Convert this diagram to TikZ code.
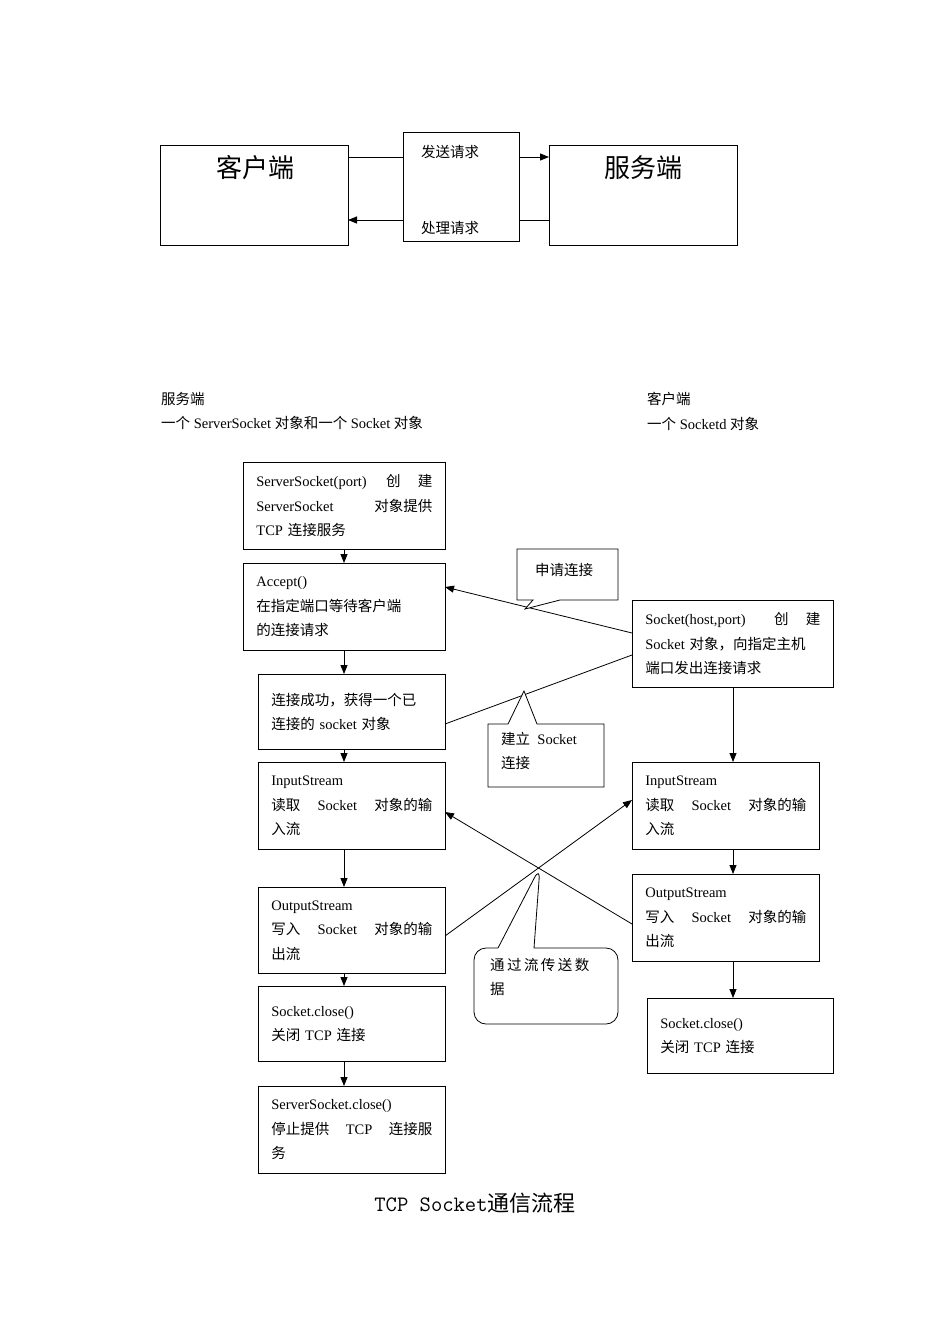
\documentclass[tikz,border=0pt]{standalone}
\usepackage{fontspec}
\setmainfont{Liberation Serif}
\newfontfamily\cjk{Noto Sans CJK SC}
\newcommand\zh[1]{{\cjk #1}}
\usetikzlibrary{arrows.meta}
\begin{document}
\begin{tikzpicture}[x=1pt,y=-1pt,
  box/.style={draw,thick,anchor=north west,align=left,inner sep=0pt,font=\fontsize{14.5}{24.5}\selectfont},
  lbl/.style={anchor=north west,inner sep=0pt,align=left,font=\fontsize{14.5}{24.5}\selectfont},
  arr/.style={thick,-{Triangle[length=9pt,width=7pt]}},
  ln/.style={thick}]
\useasboundingbox (0,0) rectangle (950,1344);
% top
\node[draw,thick,minimum width=188pt,minimum height=100pt,anchor=north west] (cl) at (160,145) {};
\node[font=\fontsize{26}{28}\selectfont] (clt) at (255,168) {\zh{客户端}};
\node[draw,thick,minimum width=116pt,minimum height=109pt,anchor=north west] (mid) at (403,132) {};
\node[font=\fontsize{14.5}{16}\selectfont] (fs) at (450,152) {\zh{发送请求}};
\node[font=\fontsize{14.5}{16}\selectfont] (cl2) at (450,228) {\zh{处理请求}};
\node[draw,thick,minimum width=188pt,minimum height=100pt,anchor=north west] (sv) at (549,145) {};
\node[font=\fontsize{26}{28}\selectfont] (svt) at (643,168) {\zh{服务端}};
\draw[ln] (348,157) -- (403,157);
\draw[arr] (519,157) -- (549,157);
\draw[arr] (403,220) -- (348,220);
\draw[ln] (549,220) -- (519,220);
% headings
\node[lbl] (h1) at (161,392) {\zh{服务端}\\\zh{一个} ServerSocket \zh{对象和一个} Socket \zh{对象}};
\node[lbl] (h2) at (647,392) {\zh{客户端}\\\zh{一个} Socketd \zh{对象}};
% left column
\node[box,minimum width=202pt,minimum height=87pt,text width=176pt] (b1) at (243,462) {ServerSocket(port)\hfill\zh{创}\hspace{1.2em}\zh{建}\\ServerSocket\hfill\zh{对象提供}\\TCP \zh{连接服务}};
\node[box,minimum width=202pt,minimum height=87pt,text width=176pt] (b2) at (243,563) {Accept()\\\zh{在指定端口等待客户端}\\\zh{的连接请求}};
\node[box,minimum width=187pt,minimum height=75pt,text width=161pt] (b3) at (258,674) {\zh{连接成功，获得一个已}\\\zh{连接的} socket \zh{对象}\\[4pt]};
\node[box,minimum width=187pt,minimum height=87pt,text width=161pt] (b4) at (258,762) {InputStream\\\zh{读取}\hfill Socket\hfill\zh{对象的输}\\\zh{入流}};
\node[box,minimum width=187pt,minimum height=86pt,text width=161pt] (b5) at (258,887) {OutputStream\\\zh{写入}\hfill Socket\hfill\zh{对象的输}\\\zh{出流}};
\node[box,minimum width=187pt,minimum height=75pt,text width=161pt] (b6) at (258,986) {Socket.close()\\\zh{关闭} TCP \zh{连接}\\[6pt]};
\node[box,minimum width=187pt,minimum height=87pt,text width=161pt] (b7) at (258,1086) {ServerSocket.close()\\\zh{停止提供}\hfill TCP\hfill\zh{连接服}\\\zh{务}};
\foreach \a/\b in {b1/b2,b2/b3,b3/b4,b4/b5,b5/b6,b6/b7}
  \draw[arr] (344,0 |- \a.south) -- (344,0 |- \b.north);
% right column
\node[box,minimum width=201pt,minimum height=87pt,text width=175pt] (r1) at (632,600) {Socket(host,port)\hfill\zh{创}\hspace{1.2em}\zh{建}\\Socket \zh{对象，向指定主机}\\\zh{端口发出连接请求}};
\node[box,minimum width=187pt,minimum height=87pt,text width=161pt] (r2) at (632,762) {InputStream\\\zh{读取}\hfill Socket\hfill\zh{对象的输}\\\zh{入流}};
\node[box,minimum width=187pt,minimum height=87pt,text width=161pt] (r3) at (632,874) {OutputStream\\\zh{写入}\hfill Socket\hfill\zh{对象的输}\\\zh{出流}};
\node[box,minimum width=186pt,minimum height=75pt,text width=160pt] (r4) at (647,998) {Socket.close()\\\zh{关闭} TCP \zh{连接}\\[6pt]};
\foreach \a/\b in {r1/r2,r2/r3,r3/r4}
  \draw[arr] (733,0 |- \a.south) -- (733,0 |- \b.north);
% cross connectors
\draw[arr] (632,633) -- (445,587);
\draw[ln] (632,655) -- (445,724);
\draw[arr] (632,924) -- (445,812);
\draw[arr] (445,936) -- (632,800);
% callouts
\draw[thick,fill=white] (517,549) -- (618,549) -- (618,600) -- (560,600) -- (525,609) -- (533,600) -- (517,600) -- cycle;
\node[font=\fontsize{14.5}{16}\selectfont] (c1) at (564,570) {\zh{申请连接}};
\draw[thick,fill=white] (488,724) -- (508,724) -- (524,691) -- (537,724) -- (604,724) -- (604,787) -- (488,787) -- cycle;
\node[lbl] (c2) at (501,732) {\zh{建立}\hspace{0.5em}Socket\\\zh{连接}};
\draw[thick,fill=white,rounded corners=12pt] (498,948) -- (540,867) [sharp corners] -- (534,948) [rounded corners=12pt] -- (618,948) -- (618,1024) -- (474,1024) -- (474,948) [sharp corners] -- (498,948);
\node[lbl] (c3) at (490,958) {\zh{通}\,\zh{过}\,\zh{流}\,\zh{传}\,\zh{送}\,\zh{数}\\\zh{据}};
% title
\node[font=\fontsize{22}{24}\selectfont] (title) at (475,1203) {\texttt{TCP Socket}\zh{通信流程}};
\end{tikzpicture}
\end{document}
